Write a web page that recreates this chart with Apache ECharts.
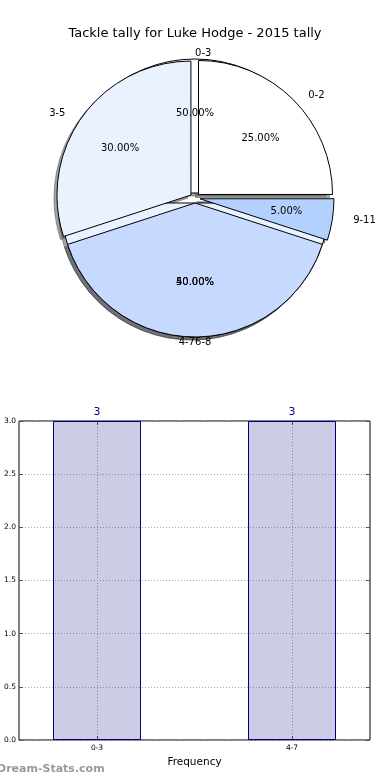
<!DOCTYPE html>
<html><head><meta charset="utf-8">
<script src="https://cdn.jsdelivr.net/npm/echarts@6/dist/echarts.min.js"></script>
<style>html,body{margin:0;padding:0;background:#fff}#c{width:390px;height:780px}</style>
</head><body><div id="c"></div>
<script>
// ---- data ----
const chartTitle = 'Tackle tally for Luke Hodge - 2015 tally';
const freqCategories = ['0-3', '4-7'];
const freqValues = [3, 3];
const groupCategories = ['0-2', '3-5', '6-8', '9-11'];
const groupShares = [25, 30, 40, 5];
const yTickValues = [0, 0.5, 1, 1.5, 2, 2.5, 3];
const watermark = 'Dream-Stats.com';
const xAxisName = 'Frequency';

// ---- style ----
const sliceColors = ['#ffffff', '#ebf2ff', '#c6d9ff', '#b3d1ff'];
const CX = 195, CY = 198, R = 134, RX = 141, RY = 127, EXPLODE = 5;
const FONT = '"DejaVu Sans", sans-serif';

function hexToRgb(h) { const n = parseInt(h.slice(1), 16); return [(n >> 16) & 255, (n >> 8) & 255, n & 255]; }
function shadowOf(h) { const c = hexToRgb(h).map(v => Math.round(v * 0.3)); return 'rgba(' + c.join(',') + ',0.5)'; }

// mid angle (radians, counter-clockwise from 3 o'clock) of every slice
function midAngles(values, startDeg) {
  const total = values.reduce((a, b) => a + b, 0);
  let a = startDeg;
  return values.map(v => {
    const span = v / total * 360;
    const mid = (a + span / 2) * Math.PI / 180;
    a += span;
    return mid;
  });
}
// stretch label placement from the drawn circle to the reference's slightly elliptic pie
function ellipseShift(mids, factor) {
  return p => {
    const m = mids[p.dataIndex];
    return { dx: factor * (RX - R) * Math.cos(m), dy: -factor * (RY - R) * Math.sin(m) };
  };
}

function pieLayer(kind, names, values, startDeg, z) {
  const mids = midAngles(values, startDeg);
  const base = {
    type: 'pie', startAngle: startDeg, clockwise: false,
    selectedMode: 'multiple', selectedOffset: EXPLODE,
    avoidLabelOverlap: false, animation: false, silent: true,
    emphasis: { disabled: true }, z: z
  };
  const data = names.map((n, i) => {
    const item = { name: n, value: values[i], selected: true };
    if (kind === 'shadow') {
      item.itemStyle = { color: shadowOf(sliceColors[i]), borderColor: shadowOf(sliceColors[i]), borderWidth: 1 };
    } else if (kind === 'main') {
      item.itemStyle = { color: sliceColors[i], borderColor: '#000', borderWidth: 1 };
    } else {
      item.itemStyle = { color: 'rgba(0,0,0,0)', borderWidth: 0 };
    }
    return item;
  });
  if (kind === 'shadow') {
    return Object.assign(base, { center: [CX - 3, CY + 3], radius: R, label: { show: false }, labelLine: { show: false }, data });
  }
  if (kind === 'main') {
    return Object.assign(base, {
      center: [CX, CY], radius: R,
      label: { show: true, position: 'outside', distanceToLabelLine: 0, color: '#000', fontSize: 10, fontFamily: FONT, formatter: '{b}' },
      labelLine: { show: false, length: R * 0.1, length2: 0 },
      labelLayout: ellipseShift(mids, 1.1), data
    });
  }
  return Object.assign(base, {
    center: [CX, CY], radius: [0, R * 1.2],
    label: { show: true, position: 'inside', color: '#000', fontSize: 10, fontFamily: FONT,
      formatter: p => p.percent.toFixed(2) + '%' },
    labelLine: { show: false },
    labelLayout: ellipseShift(mids, 0.6), data
  });
}

const chart = echarts.init(document.getElementById('c'), null, { renderer: 'canvas' });
const gridLine = { show: true, lineStyle: { color: '#aaa', type: [1, 2], width: 1 } };
const tick = { show: true, inside: true, length: 4, lineStyle: { color: '#555' } };
chart.setOption({
  animation: false,
  textStyle: { fontFamily: FONT },
  title: { text: chartTitle, left: 'center', top: 22, textStyle: { fontSize: 13, fontWeight: 'normal', color: '#000', fontFamily: FONT } },
  graphic: [{ type: 'text', left: -3, top: 764, style: { text: watermark, fill: '#999', font: 'bold 11px ' + FONT } }],
  grid: { left: 19, right: 20, top: 421, bottom: 40, show: true, borderColor: '#000', borderWidth: 1, backgroundColor: 'transparent' },
  xAxis: [{
    type: 'value', min: -0.4, max: 1.4, position: 'bottom',
    axisLine: { show: false, onZero: false },
    axisTick: Object.assign({ customValues: [0, 1] }, tick),
    axisLabel: { customValues: [0, 1], formatter: v => freqCategories[Math.round(v)], fontSize: 7.5, color: '#000', margin: 4 },
    splitLine: gridLine,
    name: xAxisName, nameLocation: 'middle', nameGap: 17, nameTextStyle: { fontSize: 10.5, color: '#000' }
  }, {
    type: 'value', min: -0.4, max: 1.4, position: 'top',
    axisLine: { show: false, onZero: false },
    axisTick: Object.assign({ customValues: [0, 1] }, tick),
    axisLabel: { show: false }, splitLine: { show: false }
  }],
  yAxis: [{
    type: 'value', min: 0, max: 3, interval: 0.5, position: 'left',
    axisLine: { show: false, onZero: false },
    axisTick: tick,
    axisLabel: { formatter: v => v.toFixed(1), fontSize: 7.5, color: '#000', margin: 3 },
    splitLine: gridLine
  }, {
    type: 'value', min: 0, max: 3, interval: 0.5, position: 'right',
    axisLine: { show: false, onZero: false },
    axisTick: tick,
    axisLabel: { show: false }, splitLine: { show: false }
  }],
  series: [
    pieLayer('shadow', freqCategories, freqValues, -0.01, 1),
    pieLayer('shadow', groupCategories, groupShares, 0.01, 1),
    pieLayer('main', freqCategories, freqValues, -0.01, 2),
    pieLayer('main', groupCategories, groupShares, 0.01, 2),
    pieLayer('pct', freqCategories, freqValues, -0.01, 3),
    pieLayer('pct', groupCategories, groupShares, 0.01, 4),
    {
      type: 'bar', xAxisIndex: 0, yAxisIndex: 0, barWidth: 88, silent: true,
      data: freqValues.map((v, i) => [i, v]),
      itemStyle: { color: 'rgba(0,0,128,0.2)', borderColor: '#000080', borderWidth: 1 },
      label: { show: true, position: 'top', distance: 3, color: '#000080', fontSize: 11, fontFamily: FONT }
    }
  ]
});
</script></body></html>
